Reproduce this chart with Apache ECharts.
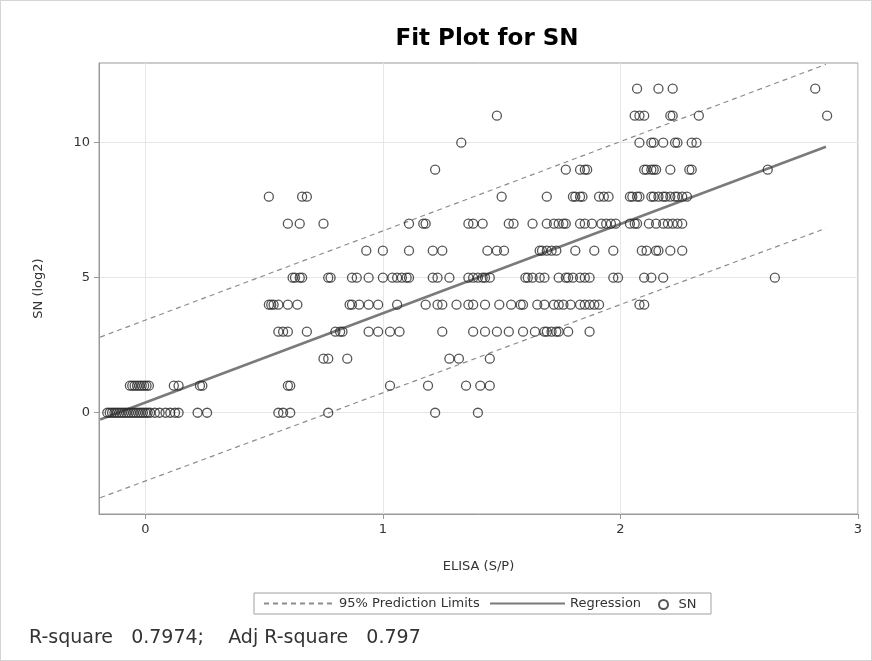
<!DOCTYPE html>
<html>
<head>
<meta charset="utf-8">
<script src="https://cdn.jsdelivr.net/npm/echarts@6/dist/echarts.min.js"></script>
<style>
  html, body { margin: 0; padding: 0; background: #fff; }
  #fit { width: 872px; height: 661px; box-sizing: border-box; border: 1px solid #d4d4d4; }
</style>
</head>
<body>
<div id="fit"></div>
<script>
// ELISA (S/P) values, one array per SN (log2) level
const elisaSN0 = [-0.16, -0.15, -0.14, -0.13, -0.12, -0.11, -0.10, -0.09, -0.08, -0.07, -0.06, -0.05, -0.04, -0.03, -0.02, -0.01, 0.00, 0.01, 0.02,
  0.04, 0.06, 0.085, 0.105, 0.125, 0.14, 0.22, 0.26, 0.56, 0.58, 0.61, 0.77, 1.22, 1.40];
const elisaSN1 = [-0.065, -0.055, -0.045, -0.035, -0.025, -0.015, -0.005, 0.005, 0.015, 0.12, 0.14, 0.23, 0.24, 0.60, 0.61, 1.03, 1.19, 1.35, 1.41, 1.45];
const elisaSN2 = [0.75, 0.77, 0.85, 1.28, 1.32, 1.45];
const elisaSN3 = [0.56, 0.58, 0.60, 0.68, 0.80, 0.82, 0.83, 0.94, 0.98, 1.03, 1.07, 1.25, 1.38, 1.43, 1.48, 1.53, 1.59, 1.64, 1.68, 1.69, 1.71, 1.73, 1.74, 1.78, 1.87];
const elisaSN4 = [0.52, 0.53, 0.54, 0.56, 0.60, 0.64, 0.86, 0.87, 0.90, 0.94, 0.98, 1.06, 1.18, 1.23, 1.25, 1.31, 1.36, 1.38, 1.43, 1.49, 1.54, 1.58, 1.59,
  1.65, 1.68, 1.72, 1.74, 1.76, 1.79, 1.83, 1.85, 1.87, 1.89, 1.91, 2.08, 2.10];
const elisaSN5 = [0.62, 0.63, 0.65, 0.66, 0.77, 0.78, 0.87, 0.89, 0.94, 1.00, 1.04, 1.06, 1.08, 1.10, 1.11, 1.21, 1.23, 1.28, 1.36, 1.38, 1.40, 1.42, 1.43, 1.45,
  1.60, 1.61, 1.63, 1.66, 1.68, 1.74, 1.77, 1.78, 1.80, 1.83, 1.85, 1.87, 1.97, 1.99, 2.10, 2.13, 2.18, 2.65];
const elisaSN6 = [0.93, 1.00, 1.11, 1.21, 1.25, 1.44, 1.48, 1.51, 1.66, 1.67, 1.69, 1.71, 1.73, 1.81, 1.89, 1.97, 2.09, 2.11, 2.15, 2.16, 2.21, 2.26];
const elisaSN7 = [0.60, 0.65, 0.75, 1.11, 1.17, 1.18, 1.36, 1.38, 1.42, 1.53, 1.55, 1.63, 1.69, 1.72, 1.74, 1.76, 1.77, 1.83, 1.85, 1.88, 1.92, 1.94, 1.96, 1.98,
  2.04, 2.06, 2.07, 2.12, 2.15, 2.18, 2.20, 2.22, 2.24, 2.26];
const elisaSN8 = [0.52, 0.66, 0.68, 1.50, 1.69, 1.80, 1.81, 1.83, 1.84, 1.91, 1.93, 1.95, 2.04, 2.05, 2.07, 2.08, 2.13, 2.14, 2.16, 2.18, 2.19, 2.21, 2.23, 2.24, 2.26, 2.28];
const elisaSN9 = [1.22, 1.77, 1.83, 1.85, 1.86, 2.10, 2.11, 2.13, 2.14, 2.15, 2.21, 2.29, 2.30, 2.62];
const elisaSN10 = [1.33, 2.08, 2.13, 2.14, 2.18, 2.23, 2.24, 2.30, 2.32];
const elisaSN11 = [1.48, 2.06, 2.08, 2.10, 2.21, 2.22, 2.33, 2.87];
const elisaSN12 = [2.07, 2.16, 2.22, 2.82];

const snLevels = [0, 1, 2, 3, 4, 5, 6, 7, 8, 9, 10, 11, 12];
const elisaByLevel = [elisaSN0, elisaSN1, elisaSN2, elisaSN3, elisaSN4, elisaSN5, elisaSN6, elisaSN7, elisaSN8, elisaSN9, elisaSN10, elisaSN11, elisaSN12];

// fitted line and 95% prediction limits, end points
const fitX = [-0.19, 2.865];
const fitY = [-0.25, 9.85];
const upperY = [2.80, 12.90];
const lowerY = [-3.15, 6.83];

const xTicks = [0, 1, 2, 3];
const yTicks = [0, 5, 10];

const rSquareText = 'R-square   0.7974;    Adj R-square   0.797';

let points = [];
for (let i = 0; i < snLevels.length; i++) {
  for (let j = 0; j < elisaByLevel[i].length; j++) {
    points.push([elisaByLevel[i][j], snLevels[i]]);
  }
}
const toPairs = (xs, ys) => xs.map((x, i) => [x, ys[i]]);

const font = 'DejaVu Sans';
const txt = '#333333';

let myChart = echarts.init(document.getElementById('fit'));
myChart.setOption({
  animation: false,
  textStyle: { fontFamily: font },
  grid: {
    left: 98, right: 13, top: 62, bottom: 146,
    show: true, borderColor: '#9a9a9a', borderWidth: 1
  },
  graphic: [
    {
      type: 'text', x: 486, y: 38,
      style: { text: 'Fit Plot for SN', font: 'bold 23px DejaVu Sans', fill: '#000', align: 'center', verticalAlign: 'middle' }
    },
    {
      type: 'rect', shape: { x: 253, y: 592, width: 457, height: 21 },
      style: { fill: 'none', stroke: '#a0a0a0', lineWidth: 1 }
    },
    {
      type: 'text', x: 28, y: 637,
      style: { text: rSquareText, font: '19px DejaVu Sans', fill: txt, verticalAlign: 'middle' }
    }
  ],
  legend: [
    {
      data: ['95% Prediction Limits'], left: 262, top: 596, padding: 0, itemWidth: 70, itemHeight: 12,
      itemStyle: { opacity: 0 },
      textStyle: { fontSize: 13, color: txt, fontFamily: font }
    },
    {
      data: ['Regression'], left: 488, top: 596, padding: 0, itemWidth: 75, itemHeight: 12,
      itemStyle: { opacity: 0 },
      textStyle: { fontSize: 13, color: txt, fontFamily: font }
    },
    {
      data: ['SN'], left: 657, top: 597, padding: 0, itemWidth: 10, itemHeight: 9,
      textStyle: { fontSize: 13, color: txt, fontFamily: font, padding: [0, 0, 0, 5] }
    }
  ],
  xAxis: {
    type: 'value', min: -0.195, max: 3.0,
    name: 'ELISA (S/P)', nameLocation: 'middle', nameGap: 46,
    nameTextStyle: { fontSize: 13, color: txt },
    axisLine: { show: true, onZero: false, lineStyle: { color: '#9a9a9a' } },
    axisTick: { show: true, length: 5, lineStyle: { color: '#9a9a9a' }, customValues: xTicks },
    axisLabel: { fontSize: 13, color: txt, margin: 9, customValues: xTicks },
    splitLine: { show: true, lineStyle: { color: '#e6e6e6' } }
  },
  yAxis: {
    type: 'value', min: -3.75, max: 12.95,
    name: 'SN (log2)', nameLocation: 'middle', nameGap: 54,
    nameTextStyle: { fontSize: 13, color: txt },
    axisLine: { show: true, onZero: false, lineStyle: { color: '#9a9a9a' } },
    axisTick: { show: true, length: 5, lineStyle: { color: '#9a9a9a' }, customValues: yTicks },
    axisLabel: { fontSize: 13, color: txt, margin: 9, customValues: yTicks },
    splitLine: { show: true, lineStyle: { color: '#e6e6e6' } }
  },
  series: [
    {
      name: '95% Prediction Limits', type: 'line', data: toPairs(fitX, upperY),
      symbol: 'none', z: 2,
      lineStyle: { color: '#8c8c8c', width: 1.2, type: [5, 4] },
      itemStyle: { color: '#8c8c8c' }
    },
    {
      name: '95% Prediction Limits', type: 'line', data: toPairs(fitX, lowerY),
      symbol: 'none', z: 2,
      lineStyle: { color: '#8c8c8c', width: 1.2, type: [5, 4] },
      itemStyle: { color: '#8c8c8c' }
    },
    {
      name: 'Regression', type: 'line', data: toPairs(fitX, fitY),
      symbol: 'none', z: 3,
      lineStyle: { color: '#7a7a7a', width: 2.5 },
      itemStyle: { color: '#7a7a7a' }
    },
    {
      name: 'SN', type: 'scatter', data: points, symbol: 'circle', symbolSize: 9, z: 4,
      itemStyle: { color: 'rgba(0,0,0,0)', borderColor: '#2b2b2b', borderWidth: 1.3 }
    }
  ]
});
</script>
</body>
</html>
